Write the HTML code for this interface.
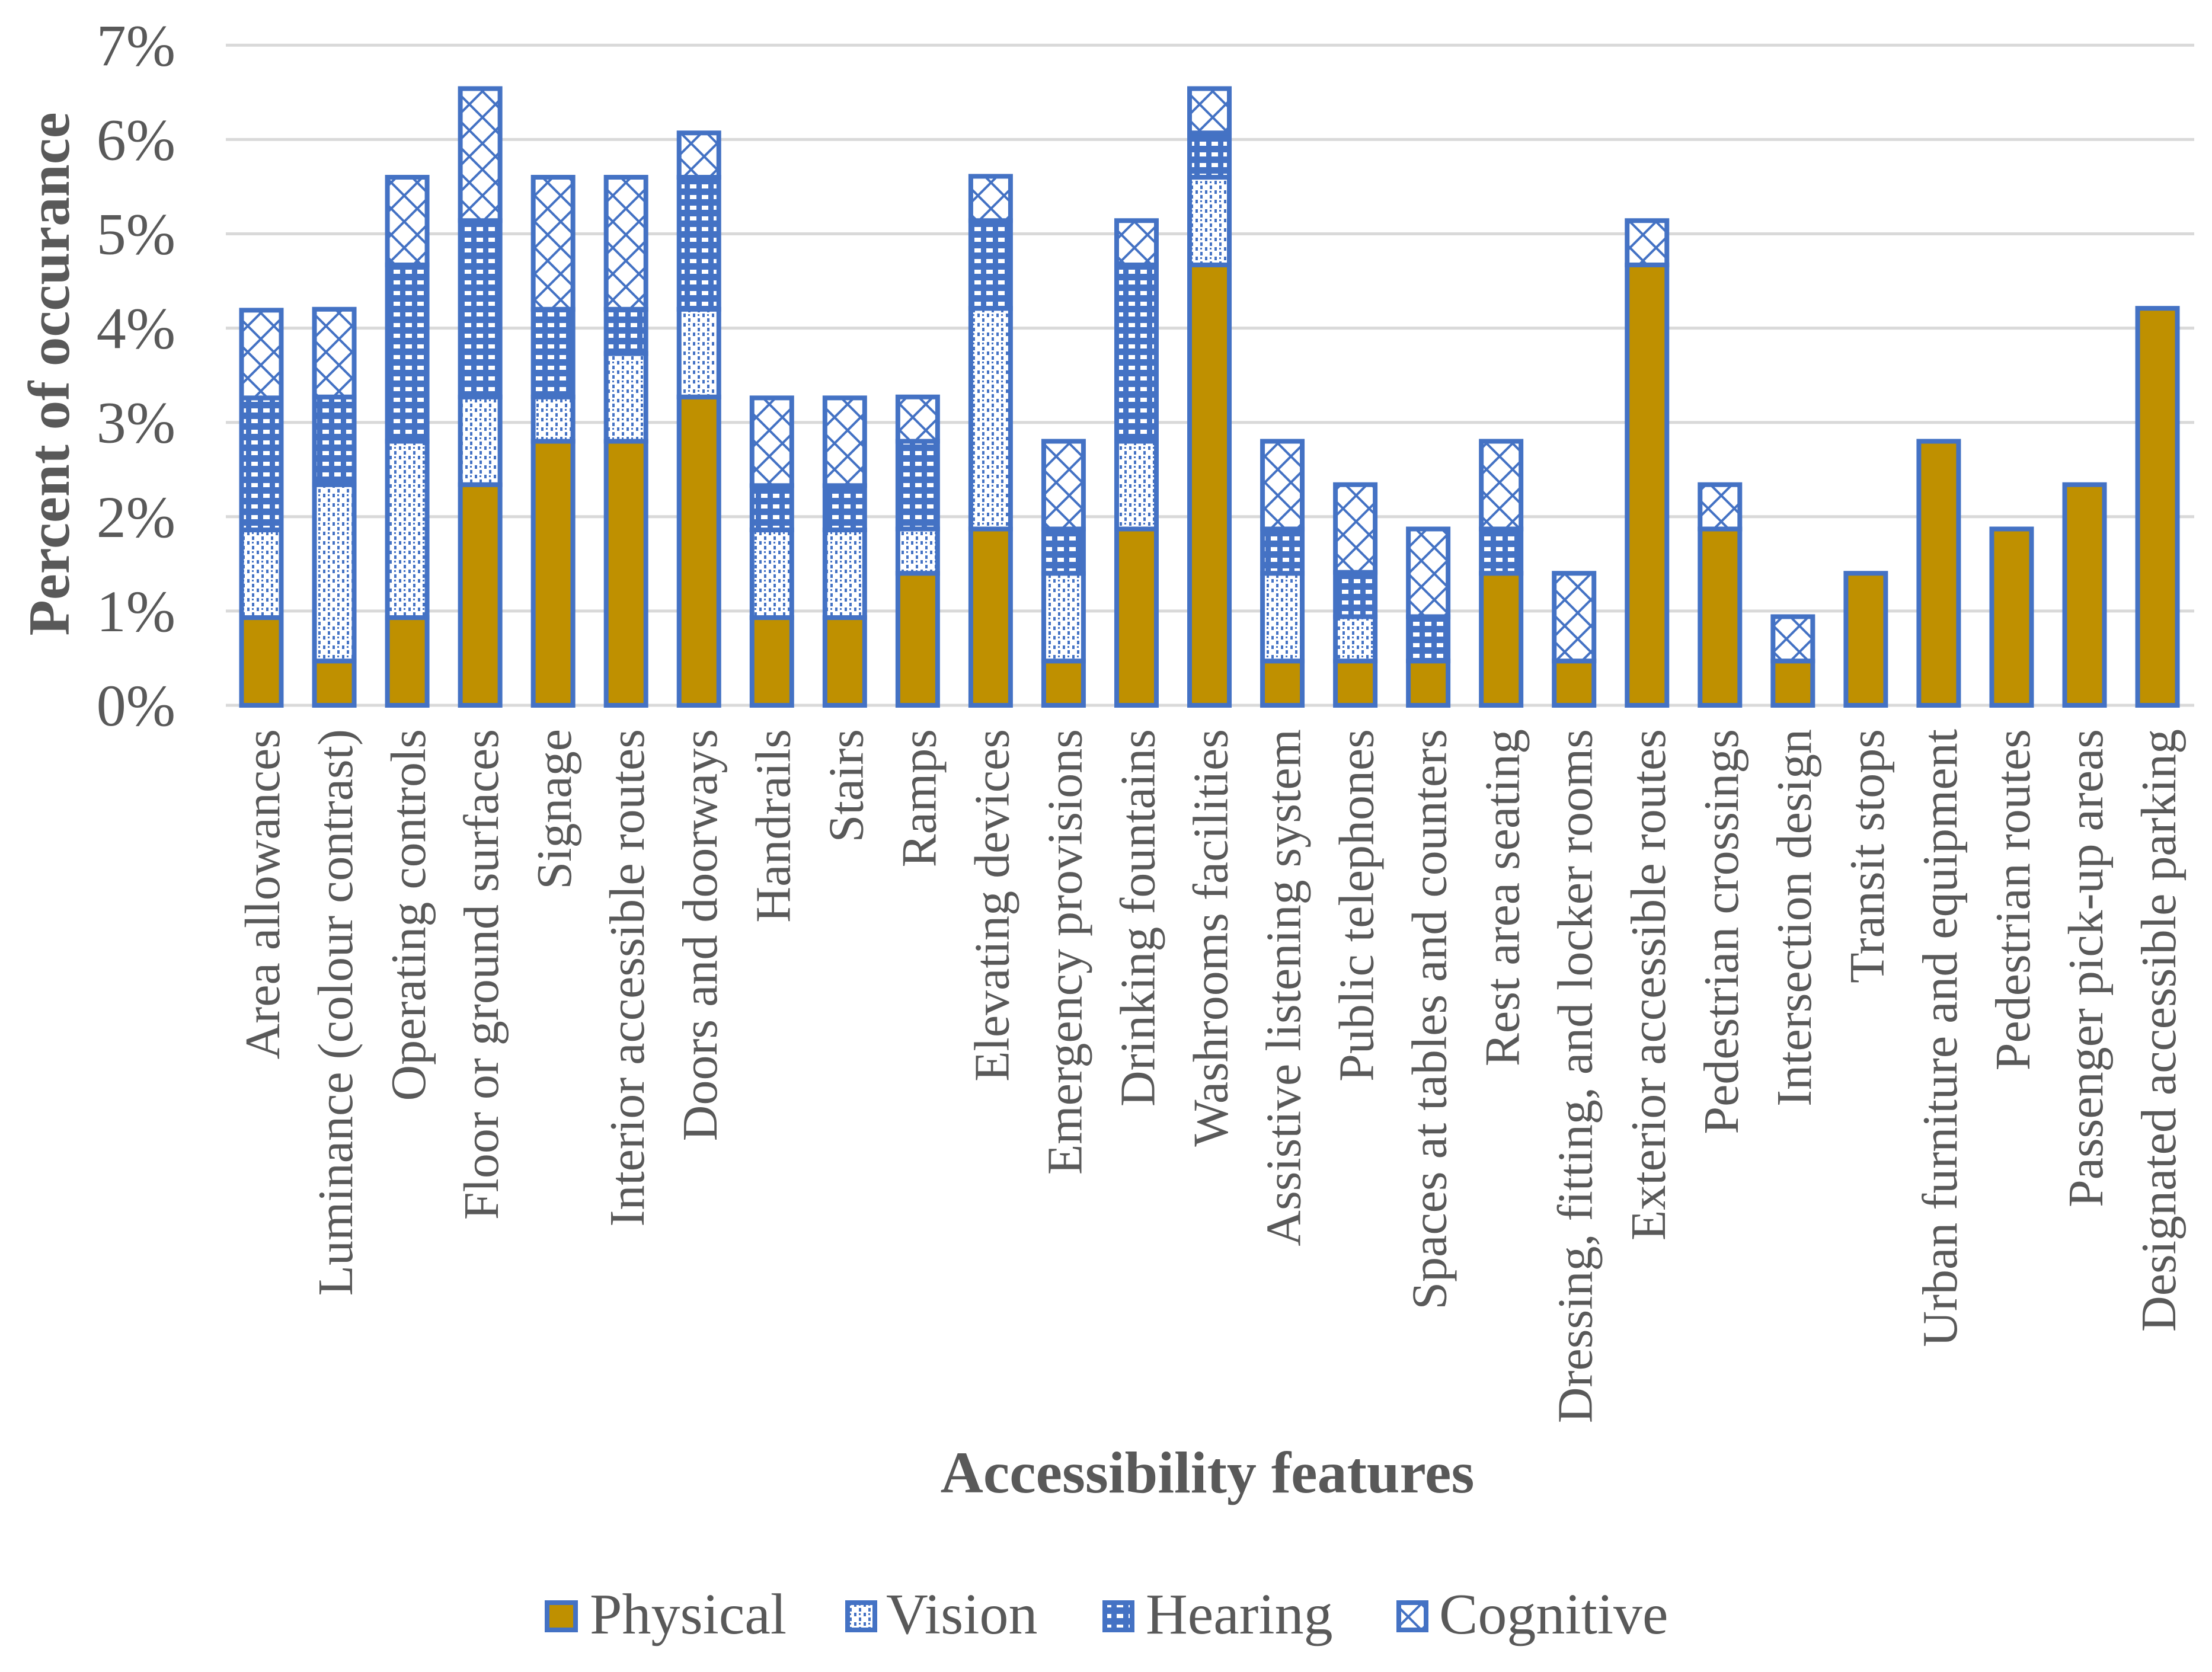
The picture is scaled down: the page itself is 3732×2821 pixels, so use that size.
<!DOCTYPE html>
<html><head><meta charset="utf-8"><style>
html,body{margin:0;padding:0;background:#fff;}
svg{display:block;}
text{font-family:"Liberation Serif","Times New Roman",serif;fill:#595959;}
</style></head><body>
<svg id="chart" xmlns="http://www.w3.org/2000/svg" width="3732" height="2821" viewBox="0 0 3732 2821">
<defs>
<pattern id="pat-vision" patternUnits="userSpaceOnUse" width="16" height="16">
<rect width="16" height="16" fill="#fff"/>
<rect x="1" y="1" width="4" height="6" fill="#4472c4"/>
<rect x="9" y="9" width="4" height="6" fill="#4472c4"/>
<rect x="9" y="2" width="3" height="3" fill="#4472c4"/>
</pattern>
<pattern id="pat-hearing" patternUnits="userSpaceOnUse" width="20" height="18">
<rect width="20" height="18" fill="#4472c4"/>
<rect x="4" y="5" width="11" height="7" fill="#fff"/>
</pattern>
<pattern id="pat-cognitive" patternUnits="userSpaceOnUse" width="44" height="44">
<rect width="44" height="44" fill="#fff"/>
<path d="M0 0L44 44M44 0L0 44" stroke="#4472c4" stroke-width="4"/>
</pattern>
</defs>
<g id="grid"></g>
<g id="bars"></g>
<g id="labels"></g>
<text transform="translate(116,631) rotate(-90)" text-anchor="middle" font-size="99" font-weight="bold">Percent of occurance</text>
<text x="2037" y="2518" text-anchor="middle" font-size="100" font-weight="bold">Accessibility features</text>
<g>
<g><rect x="923" y="2704" width="48" height="46" fill="#bf9000" stroke="#4472c4" stroke-width="8"/><text x="995" y="2756" font-size="98">Physical</text></g>
<g><rect x="1430" y="2704" width="46" height="46" fill="url(#pat-vision)" stroke="#4472c4" stroke-width="8"/><text x="1495" y="2756" font-size="98">Vision</text></g>
<g><rect x="1864" y="2704" width="46" height="46" fill="url(#pat-hearing)" stroke="#4472c4" stroke-width="8"/><text x="1933" y="2756" font-size="98">Hearing</text></g>
<g><rect x="2360" y="2704" width="46" height="46" fill="url(#pat-cognitive)" stroke="#4472c4" stroke-width="8"/><text x="2428" y="2756" font-size="98">Cognitive</text></g>
</g>
</svg>
<script>
const categories = ["Area allowances","Luminance (colour contrast)","Operating controls","Floor or ground surfaces","Signage","Interior accessible routes","Doors and doorways","Handrails","Stairs","Ramps","Elevating devices","Emergency provisions","Drinking fountains","Washrooms facilities","Assistive listening system","Public telephones","Spaces at tables and counters","Rest area seating","Dressing, fitting, and locker rooms","Exterior accessible routes","Pedestrian crossings","Intersection design","Transit stops","Urban furniture and equipment","Pedestrian routes","Passenger pick-up areas","Designated accessible parking"];
const physical = [0.93,0.47,0.93,2.34,2.8,2.8,3.27,0.93,0.93,1.4,1.87,0.47,1.87,4.67,0.47,0.47,0.47,1.4,0.47,4.67,1.87,0.47,1.4,2.8,1.87,2.34,4.21];
const vision = [0.93,1.87,1.87,0.93,0.47,0.93,0.93,0.93,0.93,0.47,2.34,0.93,0.93,0.93,0.93,0.47,0,0,0,0,0,0,0,0,0,0,0];
const hearing = [1.4,0.93,1.87,1.87,0.93,0.47,1.4,0.47,0.47,0.93,0.93,0.47,1.87,0.47,0.47,0.47,0.47,0.47,0,0,0,0,0,0,0,0,0];
const cognitive = [0.93,0.93,0.93,1.4,1.4,1.4,0.47,0.93,0.93,0.47,0.47,0.93,0.47,0.47,0.93,0.93,0.93,0.93,0.93,0.47,0.47,0.47,0,0,0,0,0];
const yTicks = [0,1,2,3,4,5,6,7];
const yTickLabels = ["0%","1%","2%","3%","4%","5%","6%","7%"];

const NS = "http://www.w3.org/2000/svg";
const y0 = 1190, pxPerUnit = 159.1, x0 = 441, step = 123.04, barW = 67;
function yScale(v){ return y0 - v * pxPerUnit; }
function xScale(i){ return x0 + step * i; }

const grid = document.getElementById('grid');
yTicks.forEach((t,k)=>{
  const l = document.createElementNS(NS,'line');
  l.setAttribute('x1',381); l.setAttribute('x2',3702);
  l.setAttribute('y1',yScale(t)); l.setAttribute('y2',yScale(t));
  l.setAttribute('stroke','#d9d9d9'); l.setAttribute('stroke-width','5');
  
  
  grid.appendChild(l);
  const tx = document.createElementNS(NS,'text');
  tx.setAttribute('x',296); tx.setAttribute('y',yScale(t)+34);
  tx.setAttribute('text-anchor','end'); tx.setAttribute('font-size','100');
  tx.textContent = yTickLabels[k];
  
  
  grid.appendChild(tx);
});

const bars = document.getElementById('bars');
const series = [[physical,'#bf9000','physical'],[vision,'url(#pat-vision)','vision'],[hearing,'url(#pat-hearing)','hearing'],[cognitive,'url(#pat-cognitive)','cognitive']];
categories.forEach((c,i)=>{
  let base = 0;
  series.forEach(([arr,fill,nm])=>{
    const v = arr[i];
    if(v<=0) return;
    const r = document.createElementNS(NS,'rect');
    r.setAttribute('x', xScale(i)-barW/2);
    r.setAttribute('y', yScale(base+v));
    r.setAttribute('width', barW);
    r.setAttribute('height', yScale(base)-yScale(base+v));
    r.setAttribute('fill', fill);
    r.setAttribute('stroke','#4472c4'); r.setAttribute('stroke-width','8');
    
    
    bars.appendChild(r);
    base += v;
  });
  const t = document.createElementNS(NS,'text');
  const lx = xScale(i)+30;
  t.setAttribute('transform','translate('+lx+',1230) rotate(-90)');
  t.setAttribute('text-anchor','end'); t.setAttribute('font-size','84');
  t.textContent = c;
  
  
  document.getElementById('labels').appendChild(t);
});
</script>
</body></html>
